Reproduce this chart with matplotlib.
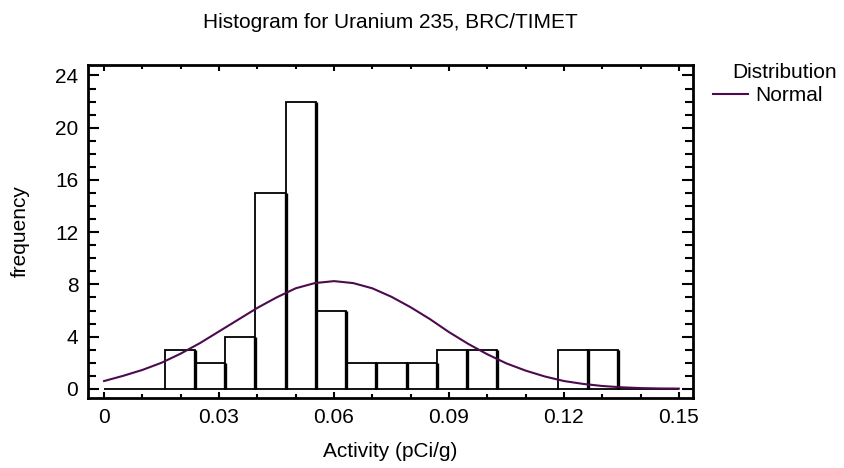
import numpy as np
import matplotlib.pyplot as plt
from matplotlib.ticker import MultipleLocator

plt.rcParams['font.family'] = ['Liberation Sans', 'DejaVu Sans']
plt.rcParams['font.size'] = 15

# histogram of Activity, 19 classes between 0 and 0.15
class_lower = 0.0
class_upper = 0.15
counts = [0, 0, 3, 2, 4, 15, 22, 6, 2, 2, 2, 3, 3, 0, 0, 3, 3, 0, 0]

# fitted normal curve
curve_x = [0.0, 0.005, 0.01, 0.015, 0.02, 0.025, 0.03, 0.035, 0.04, 0.045,
           0.05, 0.055, 0.06, 0.065, 0.07, 0.075, 0.08, 0.085, 0.09, 0.095,
           0.1, 0.105, 0.11, 0.115, 0.12, 0.125, 0.13, 0.135, 0.14, 0.145, 0.15]
curve_y = [0.6, 1.0, 1.45, 2.0, 2.7, 3.5, 4.4, 5.3, 6.2, 7.0,
           7.7, 8.1, 8.25, 8.1, 7.7, 7.05, 6.25, 5.35, 4.35, 3.45,
           2.65, 1.95, 1.4, 0.95, 0.6, 0.38, 0.22, 0.12, 0.06, 0.03, 0.02]

title = 'Histogram for Uranium 235, BRC/TIMET'
xlabel = 'Activity (pCi/g)'
ylabel = 'frequency'
legend_title = 'Distribution'
legend_label = 'Normal'
curve_color = '#4c0b4e'

n_bins = len(counts)
width = (class_upper - class_lower) / n_bins
lefts = class_lower + np.arange(n_bins) * width

fig = plt.figure(figsize=(8.45, 4.68), dpi=100)
ax = fig.add_axes([88 / 845, 1 - 398 / 468, 605 / 845, 333 / 468])

ax.bar(lefts, counts, width=width, align='edge', color='white',
       edgecolor='black', linewidth=1.3, zorder=2)
# heavier right side of each filled bar
for l, c in zip(lefts, counts):
    if c > 0:
        ax.plot([l + width, l + width], [0, c], color='black', lw=2.4,
                solid_capstyle='butt', zorder=3)

line, = ax.plot(curve_x, curve_y, color=curve_color, lw=1.5, zorder=4,
                label=legend_label)

ax.set_xlim(-0.0042, 0.1537)
ax.set_ylim(-0.7, 24.8)
ax.xaxis.set_major_locator(MultipleLocator(0.03))
ax.xaxis.set_minor_locator(MultipleLocator(0.01))
ax.yaxis.set_major_locator(MultipleLocator(4))
ax.yaxis.set_minor_locator(MultipleLocator(1))
ax.set_xticks([0, 0.03, 0.06, 0.09, 0.12, 0.15])
ax.set_xticklabels(['0', '0.03', '0.06', '0.09', '0.12', '0.15'])

ax.tick_params(axis='both', which='both', direction='in', top=True, right=True,
               width=1.5, colors='black')
ax.tick_params(axis='x', which='major', length=4, pad=7)
ax.tick_params(axis='x', which='minor', length=3)
ax.tick_params(axis='y', which='major', length=8, pad=7)
ax.tick_params(axis='y', which='minor', length=6)
for s in ax.spines.values():
    s.set_linewidth(2)

ax.set_xlabel(xlabel)
ax.xaxis.label.set_va('center')
ax.xaxis.set_label_coords(0.5, -0.162)
ax.set_ylabel(ylabel)
ax.yaxis.label.set_va('center')
ax.yaxis.set_label_coords(-0.112, 0.5)

fig.text(390 / 845, 1 - 22 / 468, title, ha='center', va='center')
fig.text(785 / 845, 1 - 73 / 468, legend_title, ha='center', va='center')
fig.legend(handles=[line], loc='center left',
           bbox_to_anchor=(713 / 845, 1 - 96 / 468), frameon=False,
           borderpad=0, borderaxespad=0, handlelength=1.7, handletextpad=0.35)

fig.savefig('out.png', dpi=100)
